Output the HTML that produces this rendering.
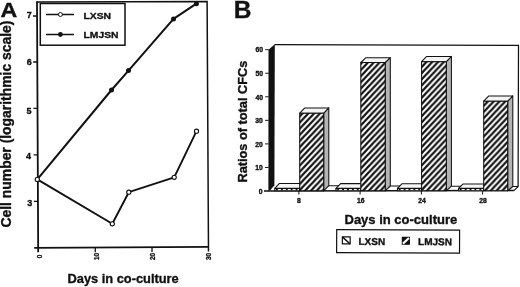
<!DOCTYPE html>
<html><head><meta charset="utf-8">
<style>
html,body{margin:0;padding:0;background:#fff;}
body{width:520px;height:287px;overflow:hidden;}
svg{display:block;}
text{font-family:"Liberation Sans",Arial,Helvetica,sans-serif;font-weight:bold;fill:#111;stroke:#111;stroke-width:0.35px;stroke-linejoin:round;}
</style></head><body>
<svg width="520" height="287" viewBox="0 0 520 287">
<defs>
<pattern id="hatch" width="5.8" height="6.15" patternUnits="userSpaceOnUse" patternTransform="translate(3.5 0)">
<rect width="5.8" height="6.15" fill="#fff"/>
<path d="M-5.8,6.15 L5.8,-6.15 M-2.900,9.225 L8.700,-3.075 M0,12.3 L11.6,0" stroke="#111" stroke-width="2.25"/>
</pattern>
</defs>
<rect width="520" height="287" fill="#fff"/>

<!-- Panel A -->
<text transform="translate(0.5,17.3) scale(1.16,1)" font-size="20" stroke="#111" stroke-width="0.8">A</text>
<g fill="none" stroke="#111">
<path d="M37,2.1 L207.1,1.6 L208.5,251.6" stroke-width="1.5"/>
<path d="M37,1.3 L38.2,252.2 M34.2,247.8 L208.9,246.9" stroke-width="1.8"/>
<path d="M33,16H37 M33.2,62H37.3 M33.4,108.4H37.5 M33.6,154.8H37.7 M33.8,201.4H38" stroke-width="1.3"/>
<path d="M95.3,247.3V252.2 M152,247V252" stroke-width="1.3"/>
</g>
<g font-size="9" text-anchor="end">
<text x="31.7" y="18.2">7</text>
<text x="31.7" y="65">6</text>
<text x="31.5" y="113.7">5</text>
<text x="31.1" y="158.6">4</text>
<text x="32.3" y="206.2">3</text>
</g>
<g font-size="6.4" text-anchor="middle">
<text transform="translate(41.5,256.4) rotate(-90)">0</text>
<text transform="translate(98.9,256.4) rotate(-90)">10</text>
<text transform="translate(155.1,256.4) rotate(-90)">20</text>
<text transform="translate(211.3,256.4) rotate(-90)">30</text>
</g>
<text transform="translate(10.9,227.5) rotate(-90)" font-size="13.9">Cell number (logarithmic scale)</text>
<text transform="translate(67.5,282.6) scale(1,0.93)" font-size="12.85">Days in co-culture</text>
<!-- legend A -->
<rect x="40.3" y="3.5" width="84.7" height="41.7" fill="#fff" stroke="#111" stroke-width="1.5"/>
<path d="M46,14.5H74 M46,34.5H74" stroke="#111" stroke-width="1.3"/>
<circle cx="60.4" cy="14.5" r="2" fill="#fff" stroke="#111" stroke-width="1"/>
<circle cx="60.4" cy="34.5" r="2.4" fill="#111"/>
<text transform="translate(83.5,18.5) scale(1.035,0.95)" font-size="10">LXSN</text>
<text transform="translate(83.5,38.4) scale(1.035,0.95)" font-size="10">LMJSN</text>
<!-- data -->
<g fill="none" stroke="#111" stroke-width="2" stroke-linejoin="round">
<polyline points="37.3,179.4 111.5,90 128.5,70.6 173.5,18.9 196.4,3.7"/>
<polyline points="37.3,179.4 112.3,223.8 128.8,192.2 174.2,177.3 196.5,131.2" stroke-width="1.9"/>
</g>
<g fill="#111">
<circle cx="111.5" cy="90" r="2.5"/><circle cx="128.5" cy="70.6" r="2.5"/><circle cx="173.5" cy="18.9" r="2.5"/><circle cx="196.4" cy="3.7" r="2.5"/>
</g>
<g fill="#fff" stroke="#111" stroke-width="1.1">
<circle cx="37.3" cy="179.4" r="2.1"/><circle cx="112.3" cy="223.8" r="2.1"/><circle cx="128.8" cy="192.2" r="2.1"/><circle cx="174.2" cy="177.3" r="2.1"/><circle cx="196.5" cy="131.2" r="2.1"/>
</g>

<!-- Panel B -->
<text x="233.8" y="17.7" font-size="24.5" stroke="#111" stroke-width="0.6">B</text>
<text transform="translate(246.6,182.5) rotate(-90)" font-size="12.75">Ratios of total CFCs</text>
<text x="344.5" y="223.8" font-size="13">Days in co-culture</text>
<!-- walls -->
<g>
<path d="M274.5,44.6 L518.5,45.4 L518.1,186.5" fill="none" stroke="#111" stroke-width="1.25"/>
<path d="M268.5,49.7 L274.8,44.2 L274.4,185.3 L269.9,190.8 H268.4Z" fill="#111"/>
<path d="M264,190.9 L513.8,190.55" stroke="#111" stroke-width="1.45"/>
<g stroke="#111" stroke-width="1">
<path d="M265.3,49.7H268.7 M265.3,73.25H268.7 M265.2,96.8H268.6 M265.2,120.35H268.6 M265.1,143.9H268.5 M265,167.45H268.5"/>
<path d="M298.9,190.5V194.5 M360.1,190.5V194.5 M421.4,190.5V194.5 M482.6,190.5V194.5"/>
</g>
<g font-size="6.8" text-anchor="end">
<text x="263" y="52.4">60</text>
<text x="263" y="75.95">50</text>
<text x="263" y="99.5">40</text>
<text x="262.9" y="123.05">30</text>
<text x="262.8" y="146.6">20</text>
<text x="262.7" y="170.1">10</text>
<text x="262.6" y="193.6">0</text>
</g>
<g font-size="6.8" text-anchor="middle">
<text x="298.8" y="202.8">8</text>
<text x="360.8" y="203">16</text>
<text x="422" y="203.15">24</text>
<text x="483" y="203.3">28</text>
</g>
<!-- bars -->
<g id="bars" stroke="#111" stroke-width="1.05" stroke-linejoin="round">
<path d="M274.8,188.4 L279.4,183.4 H300.7 V188.4Z" fill="#f8f8f8"/>
<rect x="274.8" y="188.4" width="24.9" height="2.4" fill="#fff" stroke-width="1.15"/>
<path d="M276.0,189.65 H299.7" stroke-dasharray="1.9 3" stroke-width="1.1"/>
<path d="M323.7,113.2 L328.8,107.9 V185.7 L323.7,190.8Z" fill="#b4b4b4"/>
<path d="M299.7,113.2 L304.8,107.9 H328.8 L323.7,113.2Z" fill="#f4f4f4"/>
<rect x="299.7" y="113.2" width="24.0" height="77.6" fill="url(#hatch)"/>
<path d="M328.8,185.7 L341.2,185.8" fill="none"/>
<path d="M336.0,188.4 L340.6,183.6 H361.8 V188.4Z" fill="#f8f8f8"/>
<rect x="336.0" y="188.4" width="24.8" height="2.4" fill="#fff" stroke-width="1.15"/>
<path d="M337.2,189.65 H360.8" stroke-dasharray="1.9 3" stroke-width="1.1"/>
<path d="M385.2,62.5 L390.3,57.7 V186.0 L385.2,190.8Z" fill="#b4b4b4"/>
<path d="M360.8,62.5 L365.9,57.7 H390.3 L385.2,62.5Z" fill="#f4f4f4"/>
<rect x="360.8" y="62.5" width="24.4" height="128.3" fill="url(#hatch)"/>
<path d="M390.3,186.0 L402.7,186.0" fill="none"/>
<path d="M397.5,188.4 L402.1,183.7 H422.6 V188.4Z" fill="#f8f8f8"/>
<rect x="397.5" y="188.4" width="24.1" height="2.4" fill="#fff" stroke-width="1.15"/>
<path d="M398.7,189.65 H421.6" stroke-dasharray="1.9 3" stroke-width="1.1"/>
<path d="M446.3,61.7 L451.4,56.4 V186.2 L446.3,190.8Z" fill="#b4b4b4"/>
<path d="M421.6,61.7 L426.7,56.4 H451.4 L446.3,61.7Z" fill="#f4f4f4"/>
<rect x="421.6" y="61.7" width="24.7" height="129.1" fill="url(#hatch)"/>
<path d="M451.4,186.2 L463.8,186.3" fill="none"/>
<path d="M458.6,188.4 L463.2,183.9 H484.7 V188.4Z" fill="#f8f8f8"/>
<rect x="458.6" y="188.4" width="25.1" height="2.4" fill="#fff" stroke-width="1.15"/>
<path d="M459.8,189.65 H483.7" stroke-dasharray="1.9 3" stroke-width="1.1"/>
<path d="M507.7,101.2 L512.8,95.9 V186.5 L507.7,190.8Z" fill="#b4b4b4"/>
<path d="M483.7,101.2 L488.8,95.9 H512.8 L507.7,101.2Z" fill="#f4f4f4"/>
<rect x="483.7" y="101.2" width="24.0" height="89.6" fill="url(#hatch)"/>
<path d="M512.8,186.5 L518.2,186.5 L513.6,190.8" fill="none"/>
</g>
</g>
<!-- legend B -->
<g transform="rotate(0.2 336.7 229.7)">
<rect x="336.7" y="229.7" width="122.9" height="22.9" fill="#fff" stroke="#111" stroke-width="1.2"/>
<rect x="342.4" y="236.9" width="7.8" height="7" fill="#fff" stroke="#111" stroke-width="1.2"/>
<path d="M342.4,236.9 L350.2,243.9" stroke="#111" stroke-width="1.5"/>
<text x="358.5" y="244.8" font-size="10">LXSN</text>
<rect x="402.4" y="237.1" width="7" height="6.8" fill="#111" stroke="#111" stroke-width="1.2"/>
<path d="M403,243.4 L409,237.7" stroke="#fff" stroke-width="2.1"/>
<text x="418.1" y="244.8" font-size="10">LMJSN</text>
</g>
</svg>
</body></html>
